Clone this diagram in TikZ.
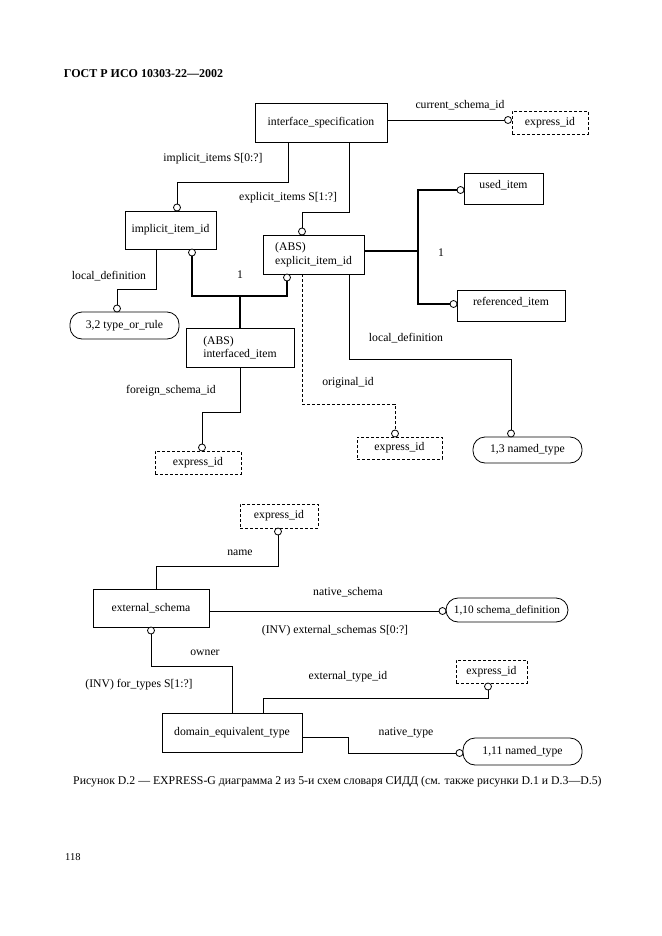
\documentclass[tikz,border=0pt]{standalone}
\usepackage{fontspec}
\setmainfont{Liberation Serif}
\usetikzlibrary{calc}
\begin{document}
\begin{tikzpicture}[x=1pt,y=-1pt,
  every node/.style={font=\fontsize{11.7}{13.5}\selectfont},
  ent/.style={draw, line width=0.8pt, rectangle, inner sep=0pt},
  dbox/.style={ent, dash pattern=on 3pt off 2pt},
  stad/.style={ent, rounded corners=12pt},
  rel/.style={draw, circle, fill=white, minimum size=7pt, inner sep=0pt, line width=0.8pt},
  ln/.style={line width=0.8pt},
  dln/.style={line width=0.8pt, dash pattern=on 3pt off 2pt},
  thk/.style={line width=2.6pt},
  lbl/.style={inner sep=0pt}]
\path[use as bounding box] (0,0) rectangle (661,936);

% header
\node[lbl, font=\fontsize{12}{14}\selectfont\bfseries] (hdr) at (143.5,74) {ГОСТ Р ИСО 10303-22—2002};

% entities
\node[ent, minimum width=132pt, minimum height=39pt] (is) at (321,122.5) {interface\_specification};
\node[dbox, minimum width=76pt, minimum height=23pt] (ex1) at (550,122.5) {express\_id};
\node[ent, minimum width=91pt, minimum height=38pt] (ii) at (170.5,230) {implicit\_item\_id};
\node[ent, minimum width=101pt, minimum height=39pt, align=left] (ei) at (313.5,254.5) {(ABS)\\explicit\_item\_id};
\node[ent, minimum width=79pt, minimum height=31pt, text depth=9pt] (ui) at (503.5,188.5) {used\_item};
\node[ent, minimum width=108pt, minimum height=31pt, text depth=9pt] (ri) at (511,305.5) {referenced\_item};
\node[ent, minimum width=108pt, minimum height=39pt, align=left] (ifi) at (240,347.5) {(ABS)\\interfaced\_item};
\node[dbox, minimum width=86pt, minimum height=23pt] (ex2) at (198,462.5) {express\_id};
\node[stad, minimum width=109pt, minimum height=27pt] (tor) at (124.5,325.5) {3,2 type\_or\_rule};
\node[dbox, minimum width=85pt, minimum height=22pt] (ex3) at (399.5,448) {express\_id};
\node[stad, minimum width=109pt, minimum height=26pt] (nt1) at (527.5,450) {1,3 named\_type};

\node[dbox, minimum width=78pt, minimum height=24pt] (ex4) at (279,516) {express\_id};
\node[ent, minimum width=116pt, minimum height=38pt] (es) at (151,608) {external\_schema};
\node[stad, minimum width=122pt, minimum height=24pt, font=\fontsize{11.3}{12.5}\selectfont] (sd) at (507,610) {1,10 schema\_definition};
\node[ent, minimum width=140pt, minimum height=39pt] (det) at (232,732.5) {domain\_equivalent\_type};
\node[dbox, minimum width=71pt, minimum height=23pt] (ex5) at (491.5,671.5) {express\_id};
\node[stad, minimum width=119pt, minimum height=27pt] (nt2) at (522.5,751.5) {1,11 named\_type};

% connectors
\draw[ln] (is.east |- 0,120) -- (504.5,120) coordinate (c1w);
\draw[ln] (288,0 |- is.south) |- (177,182) -- (177,204);
\draw[ln] (349,0 |- is.south) |- (302,212) -- (302,228);
\draw[thk] (ei.east |- 0,251) -- (418,251);
\draw[thk] (457,190) -| (418,304) -- (450,304);
\draw[thk] (192,256) |- (287,296) -- (287,281);
\draw[thk] (ifi.north) -- (240,296);
\draw[ln] (ifi.south) |- (202,412) -- (202,444);
\draw[ln] (156,0 |- ii.south) |- (117,289) -- (117,305);
\draw[dln] (302,0 |- ei.south) |- (395,404) -- (395,430);
\draw[ln] (349,0 |- ei.south) |- (511,359) -- (511,430);

\draw[ln] (278,535) -- (278,566) -| (156,0 |- es.north);
\draw[ln] (es.east |- 0,611) -- (439,611);
\draw[ln] (151,634) -- (151,666) -| (det.north);
\draw[ln] (263,0 |- det.north) |- (488,698) -- (488,690);
\draw[ln] (det.east |- 0,737) -- (348,737) |- (456,753);

% relationship circles
\node[rel] (c1) at (508,120) {};
\node[rel] (c2) at (177,207.5) {};
\node[rel] (c3) at (302,231.5) {};
\node[rel] (c4) at (460.5,190) {};
\node[rel] (c5) at (453.5,304) {};
\node[rel] (c6) at (192,252.5) {};
\node[rel] (c7) at (287,277.5) {};
\node[rel] (c8) at (202,447.5) {};
\node[rel] (c9) at (117,308.5) {};
\node[rel] (c10) at (395,433.5) {};
\node[rel] (c11) at (511,433.5) {};
\node[rel] (c12) at (278,531.5) {};
\node[rel] (c13) at (442.5,611) {};
\node[rel] (c14) at (151,630.5) {};
\node[rel] (c15) at (488,686.5) {};
\node[rel] (c16) at (459.5,753) {};

% labels
\node[lbl] (l1) at (460,105) {current\_schema\_id};
\node[lbl] (l2) at (213,159) {implicit\_items S[0:?]};
\node[lbl] (l3) at (288,198) {explicit\_items S[1:?]};
\node[lbl] (l4) at (441,253) {1};
\node[lbl] (l5) at (240,275) {1};
\node[lbl] (l6) at (109,276) {local\_definition};
\node[lbl] (l7) at (406,338) {local\_definition};
\node[lbl] (l8) at (348,383) {original\_id};
\node[lbl] (l9) at (171,391) {foreign\_schema\_id};
\node[lbl] (l10) at (240,553) {name};
\node[lbl] (l11) at (348,592) {native\_schema};
\node[lbl] (l12) at (335,631) {(INV) external\_schemas S[0:?]};
\node[lbl] (l13) at (205,653) {owner};
\node[lbl] (l14) at (139,685) {(INV) for\_types S[1:?]};
\node[lbl] (l15) at (348,677) {external\_type\_id};
\node[lbl] (l16) at (406,733) {native\_type};

% caption and page number
\node[lbl, anchor=west, font=\fontsize{11.8}{13}\selectfont] (cap) at (73,782) {Рисунок D.2 — EXPRESS-G диаграмма 2 из 5-и схем словаря СИДД (см. также рисунки D.1 и D.3—D.5)};
\node[lbl, anchor=west, font=\fontsize{10.5}{12}\selectfont] (pg) at (65,857) {118};
\end{tikzpicture}
\end{document}
